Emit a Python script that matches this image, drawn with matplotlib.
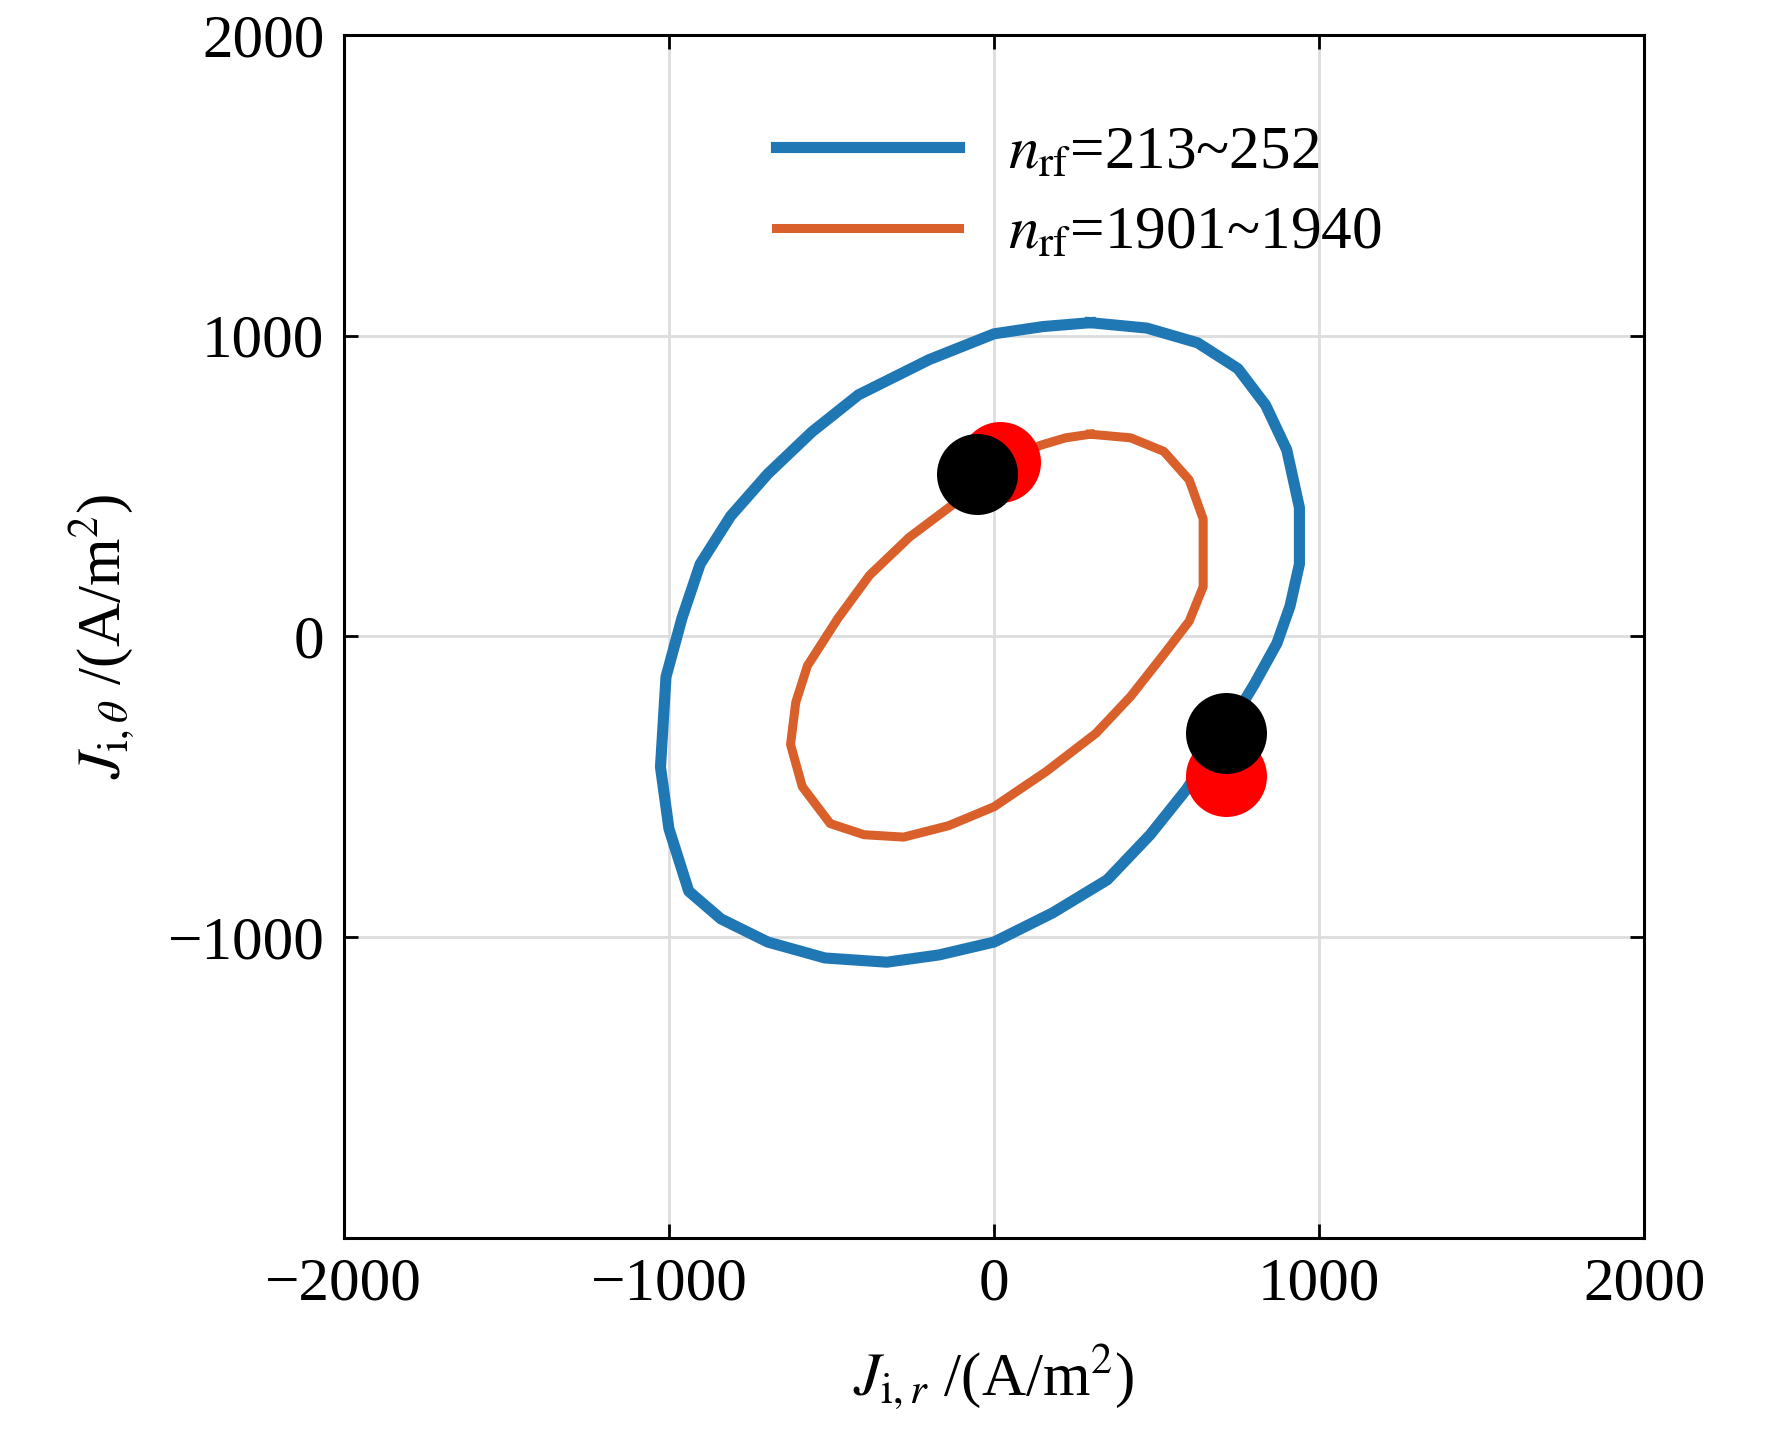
import numpy as np
import matplotlib.pyplot as plt

plt.rcParams['font.family'] = ['Liberation Serif', 'DejaVu Serif']
plt.rcParams['mathtext.fontset'] = 'stix'

# outer loop, n_rf = 213~252
blue_x = [296, 470, 626, 750, 835, 900, 939, 939, 910, 870, 800, 730, 660, 591, 480, 348, 180, 0, -170,
          -330, -520, -696, -840, -939, -1000, -1026, -1009, -960, -904, -810, -696, -560, -417, -200, 0, 150, 296]
blue_y = [1043, 1025, 976, 890, 769, 620, 428, 240, 100, -23, -160, -285, -400, -510, -660, -810, -920, -1017, -1060,
          -1084, -1070, -1017, -940, -848, -640, -435, -135, 60, 240, 400, 540, 680, 803, 920, 1006, 1030, 1043]
# inner loop, n_rf = 1901~1940
orange_x = [296, 420, 522, 600, 643, 643, 600, 522, 420, 313, 160, 0, -140, -278, -400, -504, -590, -626,
            -610, -574, -480, -383, -260, -139, 0, 139, 220, 296]
orange_y = [672, 660, 615, 520, 390, 165, 50, -60, -200, -323, -450, -567, -630, -668, -660, -623, -500, -360,
            -220, -98, 60, 203, 330, 428, 540, 634, 660, 672]
red_x = [17, 713]
red_y = [578, -465]
black_x = [-52, 713]
black_y = [540, -323]

fig = plt.figure(figsize=(17.72, 14.56), dpi=100)
ax = fig.add_axes([0.194, 0.150, 0.734, 0.826])
ax.grid(True, color='#dddddd', linewidth=2)
ax.set_axisbelow(True)
ax.plot(blue_x, blue_y, color='#1f77b4', lw=8, label=r'$n_{\mathrm{rf}}$=213~252', solid_joinstyle='round')
ax.plot(orange_x, orange_y, color='#d95f2b', lw=6.5, label=r'$n_{\mathrm{rf}}$=1901~1940', solid_joinstyle='round')
ax.scatter(red_x, red_y, s=3400, color='red', zorder=5, linewidths=0)
ax.scatter(black_x, black_y, s=3400, color='black', zorder=6, linewidths=0)

ax.set_xlim(-2000, 2000)
ax.set_ylim(-2000, 2000)
ax.set_xticks([-2000, -1000, 0, 1000, 2000])
ax.set_yticks([-1000, 0, 1000, 2000])
ax.set_xticklabels(['\u22122000', '\u22121000', '0', '1000', '2000'])
ax.set_yticklabels(['\u22121000', '0', '1000', '2000'])
ax.tick_params(direction='in', length=10, width=2, labelsize=44, top=True, right=True, pad=14)
for s in ax.spines.values():
    s.set_linewidth(2.2)
ax.set_xlabel(r'$J_{\mathrm{i},r}$ /(A/m$^2$)', fontsize=44, labelpad=22)
ax.set_ylabel(r'$J_{\mathrm{i},\theta}$ /(A/m$^2$)', fontsize=44, labelpad=22)
ax.legend(loc='upper left', bbox_to_anchor=(0.29, 0.97), frameon=False, fontsize=44,
          handlelength=3.0, handletextpad=0.8, labelspacing=0.4)

fig.savefig('out.png', dpi=100)
